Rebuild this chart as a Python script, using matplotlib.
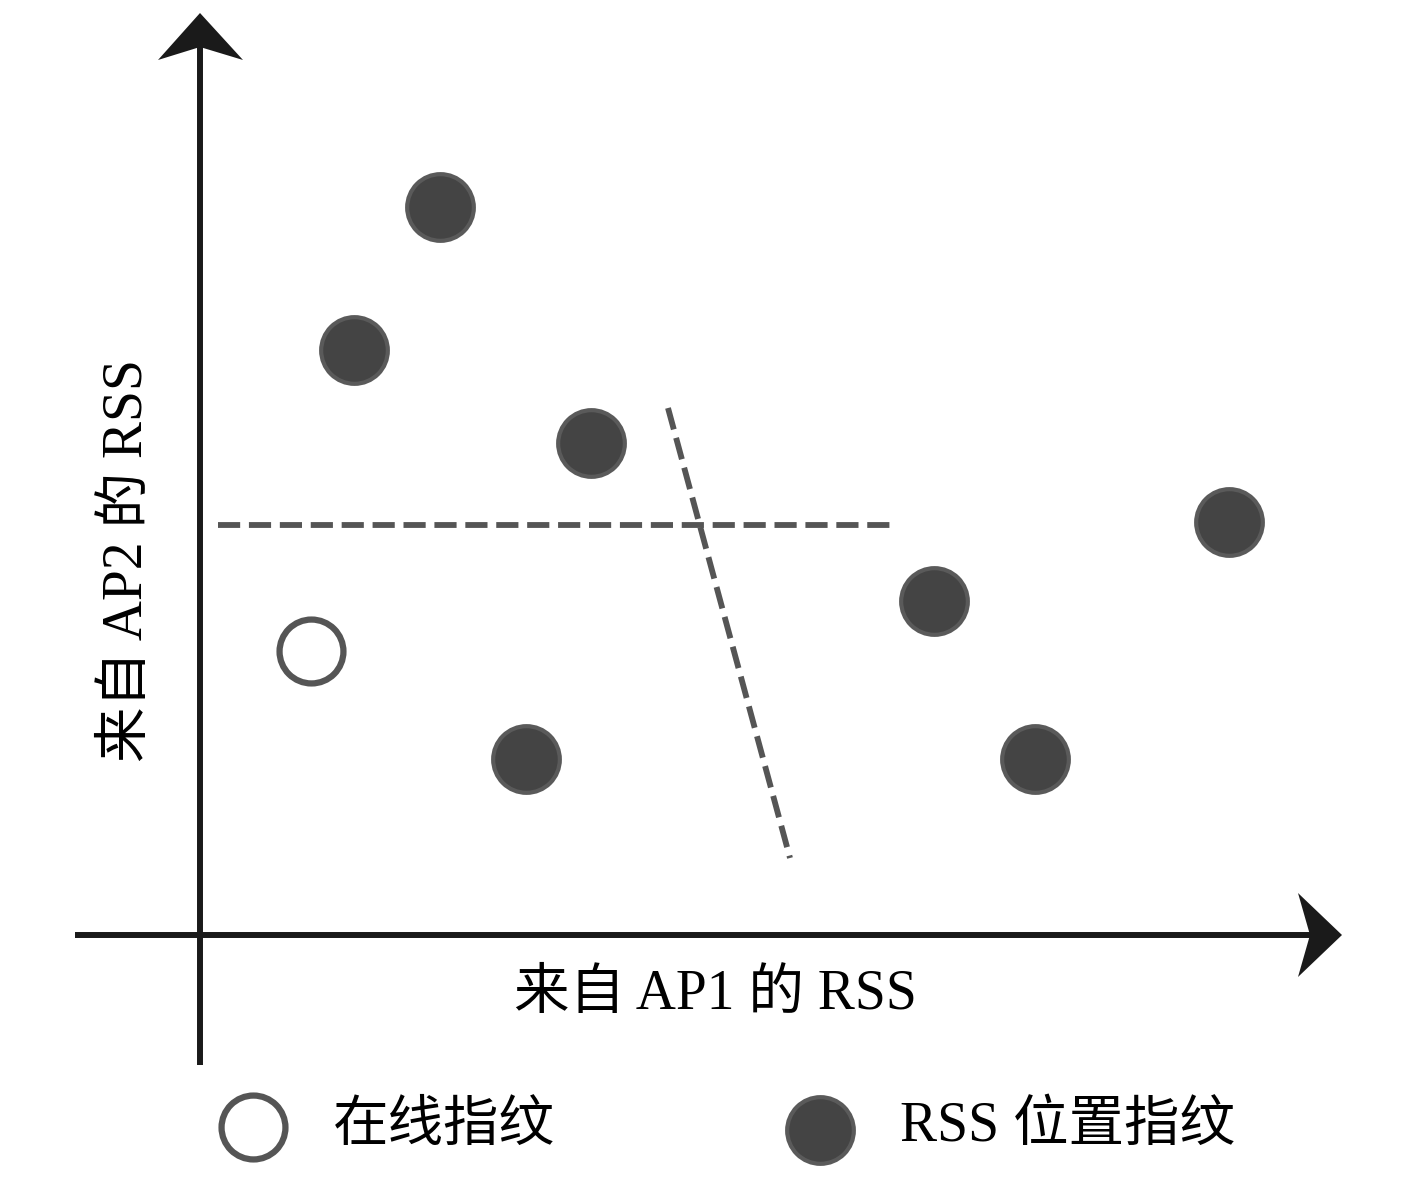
import matplotlib.pyplot as plt

plt.rcParams['font.family'] = ['Liberation Serif', 'Noto Sans CJK SC']

# RSS fingerprints (x: RSS from AP1, y: RSS from AP2), arbitrary units
fp_x = [240, 154, 391, 1029, 734, 326, 835]
fp_y = [728, 585, 492, 413, 334, 176, 176]
online_x = [111]
online_y = [284]

# dashed boundary lines
hline_x = [18, 690]
hline_y = [410, 410]
tilt_x = [468, 590]
tilt_y = [527, 77]

xlabel = '来自 AP1 的 RSS'
ylabel = '来自 AP2 的 RSS'
legend_labels = ['在线指纹', 'RSS 位置指纹']

fig = plt.figure(figsize=(14.17, 11.81), dpi=100)
ax = fig.add_axes([0, 0, 1, 1])
ax.set_xlim(-200, 1217)
ax.set_ylim(-246, 935)
ax.axis('off')

axis_col = '#1a1a1a'
# axes with arrowheads
ax.plot([-125, 1115], [0, 0], color=axis_col, lw=4.3, solid_capstyle='butt')
ax.plot([0, 0], [-130, 900], color=axis_col, lw=4.3, solid_capstyle='butt')
ax.fill([0, -42, 0, 43], [922, 875, 888, 875], color=axis_col, lw=0)
ax.fill([1142, 1098, 1110, 1098], [0, 42, 0, -42], color=axis_col, lw=0)

# dashed lines
dash_col = '#555555'
ax.plot(hline_x, hline_y, color=dash_col, lw=4.2, dashes=(3.8, 1.5))
ax.plot(tilt_x, tilt_y, color=dash_col, lw=4.2, dashes=(3.8, 1.5))

# points
ax.plot(fp_x, fp_y, 'o', ms=48, mfc='#444444', mec='#5a5a5a', mew=3, ls='none')
ax.plot(online_x, online_y, 'o', ms=46, mfc='white', mec='#555555', mew=4.5, ls='none')

# axis labels
ax.text(515, -60, xlabel, fontsize=40, ha='center', va='center')
ax.text(-72, 375, ylabel, fontsize=40, ha='center', va='center', rotation=90)

# legend
ax.plot([53], [-192], 'o', ms=46, mfc='white', mec='#555555', mew=4.5)
ax.plot([620], [-195], 'o', ms=48, mfc='#444444', mec='#5a5a5a', mew=3)
ax.text(133, -192, legend_labels[0], fontsize=40, ha='left', va='center')
ax.text(700, -192, legend_labels[1], fontsize=40, ha='left', va='center')

fig.savefig('out.png', dpi=100, facecolor='white')
